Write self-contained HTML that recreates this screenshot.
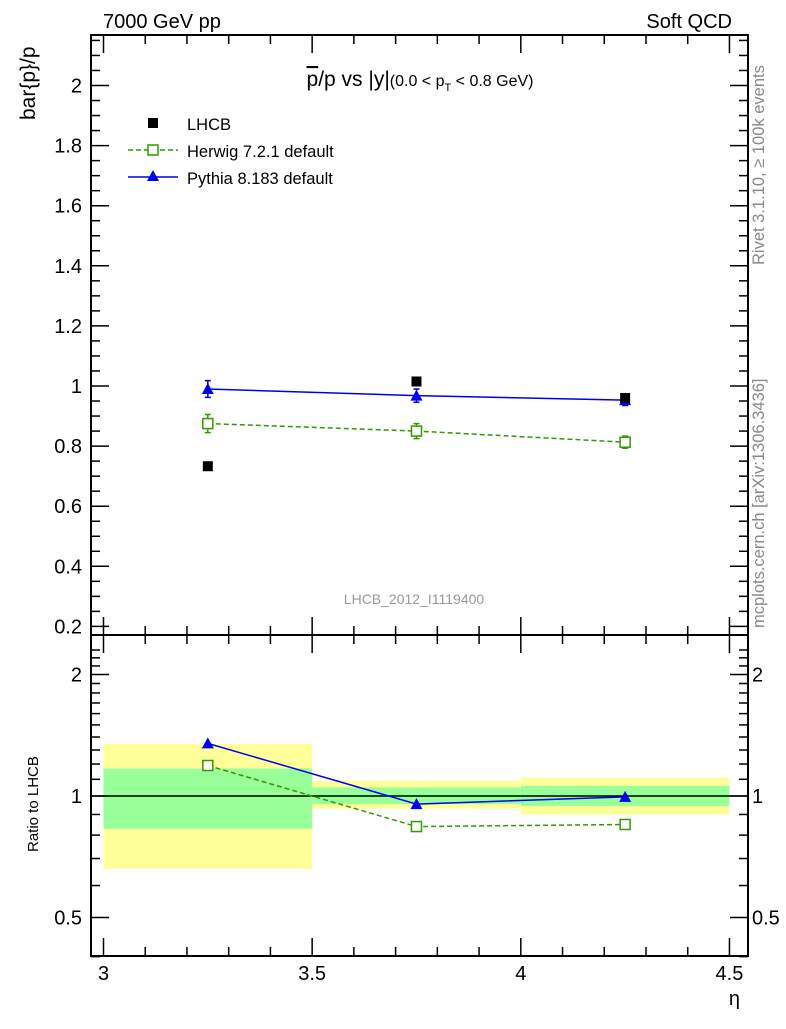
<!DOCTYPE html>
<html><head><meta charset="utf-8"><style>
body{margin:0;background:#fff}
svg text{font-family:"Liberation Sans",sans-serif}
</style></head><body>
<svg id="c" width="786" height="1024" xmlns="http://www.w3.org/2000/svg">
<text x="103" y="28" font-size="20">7000 GeV pp</text>
<text x="732" y="28" font-size="20" text-anchor="end">Soft QCD</text>
<text x="420" y="86" font-size="21" text-anchor="middle"><tspan text-decoration="overline">p</tspan>/p vs |y|<tspan font-size="16">(0.0 &lt; p</tspan><tspan font-size="11" dy="5">T</tspan><tspan font-size="16" dy="-5"> &lt; 0.8 GeV)</tspan></text>
<text x="414" y="604" font-size="14" fill="#999" text-anchor="middle">LHCB_2012_I1119400</text>
<text transform="translate(764,265) rotate(-90)" font-size="16.5" fill="#888">Rivet 3.1.10, ≥ 100k events</text>
<text transform="translate(764,628) rotate(-90)" font-size="16.5" fill="#888">mcplots.cern.ch [arXiv:1306.3436]</text>
<text transform="translate(35,120) rotate(-90)" font-size="21">bar{p}/p</text>
<text transform="translate(38,852) rotate(-90)" font-size="15">Ratio to LHCB</text>
<text x="740" y="1005" font-size="20" text-anchor="end">η</text>
<g id="g"></g>
</svg>
<script>
const xBins=[3.0,3.5,4.0,4.5];
const xPts=[3.25,3.75,4.25];
const lhcb=[0.733,1.015,0.96];
const herwig=[0.875,0.85,0.813];
const herwigErr=[0.03,0.025,0.02];
const pythia=[0.99,0.968,0.953];
const pythiaErr=[0.028,0.022,0.018];
const herwigRatio=[1.19,0.84,0.85];
const pythiaRatio=[1.35,0.955,0.995];
const yellowHi=[1.345,1.09,1.11], yellowLo=[0.66,0.93,0.9];
const greenHi=[1.17,1.05,1.06], greenLo=[0.83,0.955,0.945];
const mainTicks=[0.2,0.4,0.6,0.8,1,1.2,1.4,1.6,1.8,2];
const mainTickLabels=["0.2","0.4","0.6","0.8","1","1.2","1.4","1.6","1.8","2"];
const xTicks=[3,3.5,4,4.5], xTickLabels=["3","3.5","4","4.5"];
const ratioTicks=[0.5,1,2], ratioTickLabels=["0.5","1","2"];

const L=91,R=748,T=35,M=635,B=956;
const X=v=>103.5+(v-3)*417.3;
const Y=v=>386-(v-1)*300.5;
const YR=r=>796-Math.log2(r)*121.5;
const g=document.getElementById('g');
const NS='http://www.w3.org/2000/svg';
function el(t,a){const e=document.createElementNS(NS,t);for(const k in a)e.setAttribute(k,a[k]);g.appendChild(e);return e;}
let e;
for(let i=0;i<3;i++){
 e=el('rect',{x:X(xBins[i]),y:YR(yellowHi[i]),width:X(xBins[i+1])-X(xBins[i]),height:YR(yellowLo[i])-YR(yellowHi[i]),fill:'#ffff99'});
 
 
 e=el('rect',{x:X(xBins[i]),y:YR(greenHi[i]),width:X(xBins[i+1])-X(xBins[i]),height:YR(greenLo[i])-YR(greenHi[i]),fill:'#99ff99'});
 
 
}
e=el('line',{x1:L,x2:R,y1:YR(1),y2:YR(1),stroke:'#000','stroke-width':1.5});


e=el('rect',{x:L,y:T,width:R-L,height:M-T,fill:'none',stroke:'#000','stroke-width':2});


e=el('rect',{x:L,y:M,width:R-L,height:B-M,fill:'none',stroke:'#000','stroke-width':2});


for(let v=3;v<=4.501;v+=0.1){const maj=Math.abs(v*2-Math.round(v*2))<1e-6;const len=maj?18:9;
 for(const [y0,dir] of [[M,-1],[T,1],[B,-1],[M,1]]){
  e=el('line',{x1:X(v),x2:X(v),y1:y0,y2:y0+dir*len,stroke:'#000','stroke-width':1.5});
  
  
 }}
xTicks.forEach((v,i)=>{e=el('text',{x:X(v),y:980,'font-size':20,'text-anchor':'middle'});e.textContent=xTickLabels[i];
 
 });
for(let v=0.2;v<=2.16;v+=0.05){const maj=Math.abs(v*5-Math.round(v*5))<1e-6;const len=maj?18:9;
 for(const [x0,dir] of [[L,1],[R,-1]]){
  e=el('line',{x1:x0,x2:x0+dir*len,y1:Y(v),y2:Y(v),stroke:'#000','stroke-width':1.5});
  
  
 }}
mainTicks.forEach((v,i)=>{e=el('text',{x:82,y:Y(v)+7,'font-size':20,'text-anchor':'end'});e.textContent=mainTickLabels[i];
 
 });
const rmin=[0.4,0.5,0.6,0.7,0.8,0.9,1,1.1,1.2,1.3,1.4,1.5,1.6,1.7,1.8,1.9,2,2.1,2.2,2.3];
rmin.forEach(v=>{const maj=[0.5,1,2].includes(v);const len=maj?18:9;
 for(const [x0,dir] of [[L,1],[R,-1]]){
  e=el('line',{x1:x0,x2:x0+dir*len,y1:YR(v),y2:YR(v),stroke:'#000','stroke-width':1.5});
  
  
 }});
ratioTicks.forEach((v,i)=>{for(const [x,a] of [[82,'end'],[752,'start']]){e=el('text',{x:x,y:YR(v)+7,'font-size':20,'text-anchor':a});e.textContent=ratioTickLabels[i];
 
 }});
function series(vals,errs,yf,color,dash,marker,name){
 e=el('polyline',{points:xPts.map((x,i)=>X(x)+','+yf(vals[i])).join(' '),fill:'none',stroke:color,'stroke-width':1.5,'stroke-dasharray':dash});
 
 
 xPts.forEach((x,i)=>{const cx=X(x),cy=yf(vals[i]);
  if(errs){const y1=yf(vals[i]+errs[i]),y2=yf(vals[i]-errs[i]);
   e=el('path',{d:`M${cx},${y1}V${y2}M${cx-3},${y1}H${cx+3}M${cx-3},${y2}H${cx+3}`,stroke:color,'stroke-width':1.5,fill:'none'});
   
   }
  if(marker==='sq'){e=el('rect',{x:cx-5,y:cy-5,width:10,height:10,fill:'#fff',stroke:color,'stroke-width':1.5});}
  else{e=el('polygon',{points:`${cx},${cy-6} ${cx-6},${cy+5} ${cx+6},${cy+5}`,fill:color});}
  
  
 });
}
series(herwig,herwigErr,Y,'#339900','5,3','sq','herwig');
series(pythia,pythiaErr,Y,'#0000ee','none','tri','pythia');
xPts.forEach((x,i)=>{e=el('rect',{x:X(x)-5,y:Y(lhcb[i])-5,width:10,height:10,fill:'#000'});
 
 });
series(herwigRatio,null,YR,'#339900','5,3','sq','herwig-ratio');
series(pythiaRatio,null,YR,'#0000ee','none','tri','pythia-ratio');
e=el('rect',{x:148,y:118,width:10,height:10,fill:'#000'});


e=el('line',{x1:128,x2:178,y1:150,y2:150,stroke:'#339900','stroke-width':1.5,'stroke-dasharray':'5,3'});


e=el('rect',{x:148,y:145,width:10,height:10,fill:'#fff',stroke:'#339900','stroke-width':1.5});


e=el('line',{x1:128,x2:178,y1:177,y2:177,stroke:'#0000ee','stroke-width':1.5});


e=el('polygon',{points:'153,170 147,181 159,181',fill:'#0000ee'});


[['LHCB',130],['Herwig 7.2.1 default',157],['Pythia 8.183 default',184]].forEach(([t,y])=>{e=el('text',{x:187,y:y,'font-size':16.5});e.textContent=t;
 
 });
</script>
</body></html>
